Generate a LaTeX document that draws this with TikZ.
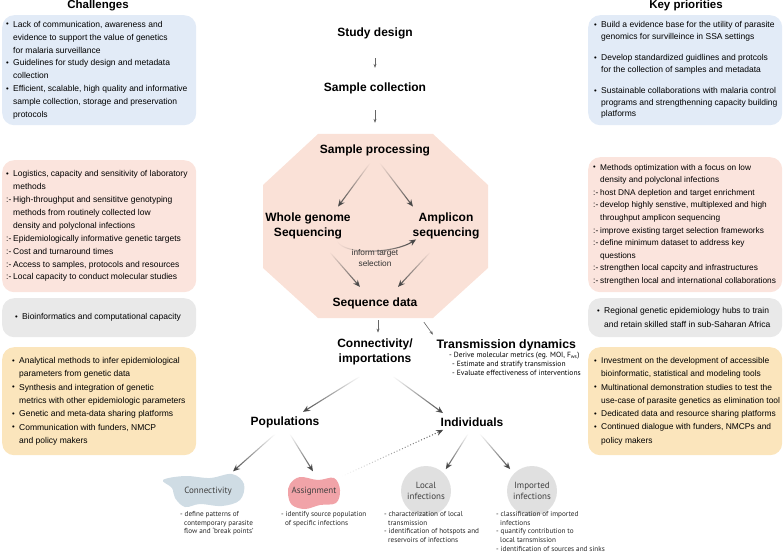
\documentclass[tikz,border=0pt]{standalone}
\usepackage{fontspec}
\usepackage{graphicx}
\setmainfont{Liberation Sans}
\newfontfamily\annotfont{PT Sans}
\usetikzlibrary{arrows.meta, calc, positioning, fadings}
\definecolor{panelblue}{RGB}{226,235,247}
\definecolor{panelpink}{RGB}{251,228,221}
\definecolor{panelgray}{RGB}{233,233,233}
\definecolor{panelyellow}{RGB}{251,229,188}
\definecolor{octpink}{RGB}{250,225,215}
\definecolor{blobblue}{RGB}{207,220,228}
\definecolor{blobpink}{RGB}{241,163,168}
\definecolor{circgray}{RGB}{224,224,224}
\definecolor{arrowgray}{RGB}{70,70,70}
\newcommand{\bul}{\makebox[7pt][l]{\raisebox{0.1ex}{\scalebox{0.9}{\textbullet}}}}
\newcommand{\subit}{\makebox[7pt][l]{:-}}
\newcommand{\ind}{\hspace*{7pt}}

\begin{document}
\begin{tikzpicture}[x=1pt, y=-1pt,
    panel/.style={rectangle, rounded corners=12pt, minimum width=194pt, anchor=north west, inner sep=0pt},
    paneltext/.style={anchor=west, align=left, inner sep=0pt, font=\fontsize{8.5}{12.9}\selectfont},
    coltitle/.style={font=\bfseries\fontsize{11.5}{13}\selectfont},
    stage/.style={font=\bfseries\fontsize{12}{14.5}\selectfont, align=center},
    subtext/.style={font=\annotfont\fontsize{7.5}{8.8}\selectfont, align=left, anchor=north west, inner sep=0pt},
    notetext/.style={font=\annotfont\fontsize{7.2}{8.8}\selectfont, text=black!85, align=left, anchor=north west, inner sep=0pt},
    smallarr/.style={draw=gray!80!black, line width=0.6pt, -{Stealth[length=4pt,width=3pt]}},
    fadearr/.style={draw=arrowgray, line width=1.1pt, -{Stealth[length=7pt,width=6pt]}, path fading=north},
    dotarr/.style={draw=arrowgray, dotted, line width=1pt, -{Stealth[length=7pt,width=6pt]}, path fading=west},
    bloblab/.style={font=\annotfont\fontsize{9}{10}\selectfont, text=black!75},
    infcirc/.style={circle, fill=circgray, minimum size=50pt, inner sep=0pt, align=center, font=\annotfont\fontsize{9}{10.5}\selectfont, text=black!75}
  ]
  \useasboundingbox (0,0) rectangle (784,556);

  % column titles
  \node[coltitle] (challenges) at (98,6) {Challenges};
  \node[coltitle] (priorities) at (686,6) {Key priorities};

  % challenges column
  \node[panel, fill=panelblue, minimum height=110pt] (chal1) at (2,15) {};
  \node[paneltext] (chal1txt) at ([xshift=4pt]chal1.west) {\bul Lack of communication, awareness and\\
    \ind evidence to support the value of genetics\\
    \ind for malaria surveillance\\
    \bul Guidelines for study design and metadata\\
    \ind collection\\
    \bul Efficient, scalable, high quality and informative\\
    \ind sample collection, storage and preservation\\
    \ind protocols};
  \node[panel, fill=panelpink, minimum height=132pt] (chal2) at (2,160) {};
  \node[paneltext] (chal2txt) at ([xshift=4pt]chal2.west) {\bul Logistics, capacity and sensitivity of laboratory\\
    \ind methods\\
    \subit High-throughput and sensititve genotyping\\
    \ind methods from routinely collected low\\
    \ind density and polyclonal infections\\
    \subit Epidemiologically informative genetic targets\\
    \subit Cost and turnaround times\\
    \subit Access to samples, protocols and resources\\
    \subit Local capacity to conduct molecular studies};
  \node[panel, fill=panelgray, minimum height=39pt] (chal3) at (2,298) {};
  \node[paneltext] (chal3txt) at ([xshift=13pt]chal3.west) {\bul Bioinformatics and computational capacity};
  \node[panel, fill=panelyellow, minimum height=108pt] (chal4) at (2,347) {};
  \node[paneltext, font=\fontsize{8.5}{13.3}\selectfont] (chal4txt) at ([xshift=10pt]chal4.west) {\bul Analytical methods to infer epidemiological\\
    \ind parameters from genetic data\\
    \bul Synthesis and integration of genetic\\
    \ind metrics with other epidemiologic parameters\\
    \bul Genetic and meta-data sharing platforms\\
    \bul Communication with funders, NMCP\\
    \ind and policy makers};

  % key priorities column
  \node[panel, fill=panelblue, minimum height=110pt] (prio1) at (588,15) {};
  \node[paneltext, font=\fontsize{8.5}{11.5}\selectfont] (prio1txt) at ([xshift=6pt]prio1.west) {\bul Build a evidence base for the utility of parasite\\
    \ind genomics for survilleince in SSA settings\\[10pt]
    \bul Develop standardized guidlines and protcols\\
    \ind for the collection of samples and metadata\\[10pt]
    \bul Sustainable collaborations with malaria control\\
    \ind programs and strengthenning capacity building\\
    \ind platforms};
  \node[panel, fill=panelpink, minimum height=135pt] (prio2) at (588,157) {};
  \node[paneltext, font=\fontsize{8.3}{12.6}\selectfont] (prio2txt) at ([xshift=5pt]prio2.west) {\bul Methods optimization with a focus on low\\
    \ind density and polyclonal infections\\
    \subit host DNA depletion and target enrichment\\
    \subit develop highly senstive, multiplexed and high\\
    \ind throughput amplicon sequencing\\
    \subit improve existing target selection frameworks\\
    \subit define minimum dataset to address key\\
    \ind questions\\
    \subit strengthen local capcity and infrastructures\\
    \subit strengthen local and international collaborations};
  \node[panel, fill=panelgray, minimum height=39pt] (prio3) at (588,298) {};
  \node[paneltext, font=\fontsize{8.5}{13.5}\selectfont] (prio3txt) at ([xshift=9pt]prio3.west) {\bul Regional genetic epidemiology hubs to train\\
    \ind and retain skilled staff in sub-Saharan Africa};
  \node[panel, fill=panelyellow, minimum height=108pt] (prio4) at (588,347) {};
  \node[paneltext, font=\fontsize{8.4}{13.3}\selectfont] (prio4txt) at ([xshift=6pt]prio4.west) {\bul Investment on the development of accessible\\
    \ind bioinformatic, statistical and modeling tools\\
    \bul Multinational demonstration studies to test the\\
    \ind use-case of parasite genetics as elimination tool\\
    \bul Dedicated data and resource sharing platforms\\
    \bul Continued dialogue with funders, NMCPs and\\
    \ind policy makers};

  % sample processing octagon
  \fill[octpink] (318,134) -- (433,134) -- (488,185) -- (488,268) -- (433,318)
    -- (318,318) -- (263,268) -- (263,185) -- cycle;

  % pipeline
  \node[stage] (study) at (375,33) {Study design};
  \node[stage] (scoll) at (375,88) {Sample collection};
  \node[stage] (sproc) at (375,150) {Sample processing};
  \node[stage] (wgs) at (308,226) {Whole genome\\Sequencing};
  \node[stage] (amp) at (446,226) {Amplicon\\sequencing};
  \node[font=\fontsize{8.3}{11}\selectfont, align=center, text=black!80] (inform) at (375,258) {inform target\\selection};
  \node[stage] (seqdata) at (375,303) {Sequence data};
  \node[stage] (conn) at (375,352) {Connectivity/\\importations};
  \node[stage, anchor=west, font=\bfseries\fontsize{12.3}{14}\selectfont] (trans) at (433,345) {Transmission dynamics};
  \node[subtext] (transtxt) at (449,352) {- Derive molecular metrics (eg. MOI, F\textsubscript{ws})\\
    \hspace*{3pt}- Estimate and stratify transmission\\
    \hspace*{3pt}- Evaluate effectiveness of interventions};
  \node[stage] (pops) at (285,422) {Populations};
  \node[stage] (indiv) at (472,422) {Individuals};

  % populations outcomes
  \fill[blobblue] plot[smooth cycle, tension=0.6] coordinates {(163,480) (185,476) (210,478) (232,474) (244,484) (240,500) (222,506) (200,504) (185,507) (175,498) (172,488)};
  \fill[blobpink] plot[smooth cycle, tension=0.6] coordinates {(290,484) (300,477) (318,480) (334,478) (340,490) (336,503) (320,505) (305,509) (292,505) (288,494)};
  \node[bloblab] (connlab) at (208,491) {Connectivity};
  \node[bloblab] (assign) at (314,491) {Assignment};
  \node[notetext] (conntxt) at (180,511) {- define patterns of\\
    \hspace*{4pt}contemporary parasite\\
    \hspace*{4pt}flow and ‘break points’};
  \node[notetext] (assigntxt) at (281,511) {- identify source population\\
    \hspace*{4pt}of specific infections};

  % individuals outcomes
  \node[infcirc] (local) at (426,491) {Local\\infections};
  \node[infcirc] (imported) at (532,491) {Imported\\infections};
  \node[notetext] (localtxt) at (384,511) {- characterization of local\\
    \hspace*{4pt}transmission\\
    - identification of hotspots and\\
    \hspace*{4pt}reservoirs of infections};
  \node[notetext] (importtxt) at (496,511) {- classification of imported\\
    \hspace*{4pt}infections\\
    - quantify contribution to\\
    \hspace*{4pt}local tarnsmission\\
    - identification of sources and sinks};

  % connectors
  \draw[smallarr] ($(study.south)+(0,16)$) -- ($(scoll.north)+(0,-11)$);
  \draw[smallarr] ($(scoll.south)+(0,13)$) -- ($(sproc.north)+(0,-18)$);
  \draw[fadearr] ($(sproc.south)+(-5,4)$) -- ($(wgs.north)+(30,-3)$);
  \draw[fadearr] ($(sproc.south)+(5,4)$) -- ($(amp.north)+(-33,-3)$);
  \draw[fadearr, path fading=west] ($(wgs.south east)+(-17,-1)$) .. controls +(8,14) and +(-22,14) .. ($(amp.south west)+(7,-3)$);
  \draw[fadearr] ($(wgs.south)+(22,10)$) -- ($(seqdata.north)+(-15,-7)$);
  \draw[fadearr] ($(amp.south)+(-16,10)$) -- ($(seqdata.north)+(23,-7)$);
  \draw[smallarr] ($(seqdata.south)+(3,8)$) -- ($(conn.north)+(3,-3)$);
  \draw[smallarr] ($(seqdata.south east)+(3,10)$) -- ($(trans.north west)+(0,-1)$);
  \draw[fadearr] ($(conn.south)+(-15,8)$) -- ($(pops.north)+(18,-1)$);
  \draw[fadearr] ($(conn.south)+(18,8)$) -- ($(indiv.north)+(-29,-1)$);
  \draw[fadearr] ($(pops.south)+(-10,3)$) -- ($(connlab.north)+(25,-12)$);
  \draw[fadearr] ($(pops.south)+(5,3)$) -- ($(assign.north)+(-1,-12)$);
  \draw[fadearr] ($(indiv.south)+(-4,4)$) -- ($(local.north east)+(2,-4)$);
  \draw[fadearr] ($(indiv.south)+(8,4)$) -- ($(imported.north west)+(-4,-4)$);
  \draw[dotarr] ($(assign.north east)+(2,-7)$) -- ($(indiv.south west)+(6,0)$);
\end{tikzpicture}
\end{document}
